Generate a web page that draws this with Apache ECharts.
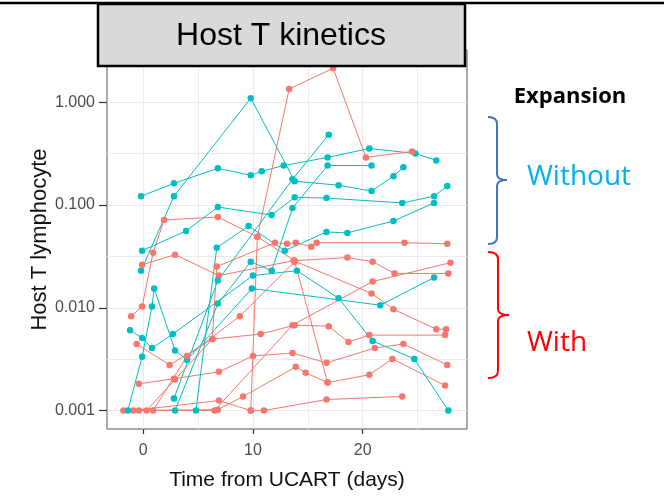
<!DOCTYPE html>
<html>
<head>
<meta charset="utf-8">
<style>
  html, body { margin: 0; padding: 0; background: #fff; }
  #chart { width: 664px; height: 496px; }
</style>
<script src="https://cdn.jsdelivr.net/npm/echarts@6/dist/echarts.min.js"></script>
</head>
<body>
<div id="chart"></div>
<script>
// each patient: [day from UCART, host T lymphocyte fraction]
const withoutExpansion = [
  [[-0.2, 0.122], [2.8, 0.163], [6.8, 0.228], [9.8, 0.195], [10.8, 0.213], [12.8, 0.243], [16.8, 0.291], [20.6, 0.356], [24.8, 0.318], [26.7, 0.272]],
  [[-0.2, 0.023], [2.8, 0.122], [9.8, 1.1], [13.8, 0.171], [17.8, 0.156], [20.8, 0.137], [22.8, 0.191], [23.7, 0.233]],
  [[-0.1, 0.036], [3.9, 0.056], [6.8, 0.0957], [11.7, 0.08], [13.8, 0.119], [16.7, 0.117], [23.6, 0.105], [26.5, 0.122], [27.7, 0.153]],
  [[2.8, 0.00131], [6.8, 0.0184], [13.6, 0.178], [16.9, 0.485]],
  [[4.8, 0.001], [6.7, 0.0384], [9.6, 0.0627], [12.9, 0.036], [16.7, 0.0548], [18.6, 0.0536], [22.8, 0.07], [26.5, 0.105]],
  [[-1.2, 0.00606], [-0.1, 0.00507], [0.8, 0.00406], [2.7, 0.00555], [10.0, 0.0206], [14.0, 0.023], [17.8, 0.0124], [20.9, 0.00475], [24.7, 0.00318], [27.8, 0.001]],
  [[-1.4, 0.001], [-0.1, 0.00333], [0.8, 0.0103], [1.0, 0.0154], [2.9, 0.00385], [4.0, 0.00311], [9.9, 0.0154], [21.6, 0.0106], [26.5, 0.0197]],
  [[2.9, 0.001], [6.8, 0.011], [9.8, 0.0281], [11.7, 0.023], [13.6, 0.0935], [16.8, 0.243], [20.8, 0.243]]
];

const withExpansion = [
  [[-1.1, 0.00828], [-0.1, 0.0103], [0.9, 0.0344], [1.9, 0.0716], [6.8, 0.0766], [10.4, 0.0491], [13.8, 0.0288], [18.6, 0.0308], [20.9, 0.0281], [22.9, 0.0216], [27.8, 0.0216]],
  [[9.8, 0.001], [10.4, 0.0491], [13.3, 1.35], [17.3, 2.15], [20.3, 0.291], [24.5, 0.333]],
  [[-0.1, 0.0263], [2.9, 0.0329], [6.9, 0.0206], [13.7, 0.0288], [20.8, 0.0138], [22.8, 0.00968], [26.7, 0.00619], [27.6, 0.00619]],
  [[-0.6, 0.00444], [2.4, 0.00278], [6.3, 0.00496], [10.7, 0.00555], [13.8, 0.00678], [16.9, 0.00662], [18.7, 0.00464], [20.6, 0.00542], [27.5, 0.00542]],
  [[-0.4, 0.00182], [2.8, 0.00204], [6.9, 0.00238], [10.0, 0.0034], [13.6, 0.00363], [16.7, 0.00291], [21.1, 0.00406], [23.7, 0.00444], [27.7, 0.00278]],
  [[-1.8, 0.001], [6.8, 0.00102], [9.1, 0.00137], [13.9, 0.00266], [14.8, 0.00233], [16.8, 0.00187], [20.6, 0.00223], [22.7, 0.00318], [27.5, 0.00175]],
  [[-0.9, 0.001], [6.9, 0.00125], [9.8, 0.001], [11.0, 0.001], [16.7, 0.00128], [23.6, 0.00137]],
  [[0.3, 0.001], [2.9, 0.002], [6.3, 0.00496], [6.7, 0.0252], [12.0, 0.043], [13.1, 0.042], [13.9, 0.043], [15.3, 0.0393], [15.8, 0.043], [23.8, 0.043], [27.7, 0.042]],
  [[0.9, 0.001], [4.0, 0.0034], [8.8, 0.00828], [13.8, 0.0281], [16.8, 0.00187]],
  [[-0.4, 0.001], [6.5, 0.001], [13.6, 0.00678], [20.9, 0.018], [28.0, 0.0275]]
];

const xTicks = [0, 10, 20];
const yTicks = [0.001, 0.01, 0.1, 1];

const TEAL = '#00BFC4';
const SALMON = '#F8766D';
const X_RANGE = [-3.3, 29.5];
const Y_RANGE = [-3.18, 0.51]; // log10 units

function patientSeries(pts, color) {
  return {
    type: 'line',
    data: pts.map(p => [p[0], Math.log10(p[1])]),
    symbol: 'circle',
    symbolSize: 6.5,
    itemStyle: { color: color },
    lineStyle: { color: color, width: 1 },
    silent: true
  };
}

let series = [];
const n = Math.max(withoutExpansion.length, withExpansion.length);
for (let i = 0; i < n; i++) {
  if (withExpansion[i]) series.push(patientSeries(withExpansion[i], SALMON));
  if (withoutExpansion[i]) series.push(patientSeries(withoutExpansion[i], TEAL));
}

// curly bracket "}" made of curves and lines
function bracket(x0, x1, xTip, top, mid, bottom, color) {
  const st = { stroke: color, lineWidth: 2, fill: null };
  return {
    type: 'group',
    children: [
      { type: 'bezierCurve', shape: { x1: x0, y1: top, cpx1: x1, cpy1: top, x2: x1, y2: top + 7 }, style: st },
      { type: 'line', shape: { x1: x1, y1: top + 7, x2: x1, y2: mid - 6 }, style: st },
      { type: 'bezierCurve', shape: { x1: x1, y1: mid - 6, cpx1: x1, cpy1: mid, x2: xTip, y2: mid }, style: st },
      { type: 'bezierCurve', shape: { x1: xTip, y1: mid, cpx1: x1, cpy1: mid, x2: x1, y2: mid + 6 }, style: st },
      { type: 'line', shape: { x1: x1, y1: mid + 6, x2: x1, y2: bottom - 7 }, style: st },
      { type: 'bezierCurve', shape: { x1: x1, y1: bottom - 7, cpx1: x1, cpy1: bottom, x2: x0, y2: bottom }, style: st }
    ]
  };
}

const chart = echarts.init(document.getElementById('chart'));
const axisFont = 'Liberation Sans, Arial, sans-serif';
const gridLine = { lineStyle: { color: '#ebebeb', width: 1 }, showMinLine: false, showMaxLine: false };

chart.setOption({
  animation: false,
  grid: {
    left: 107, right: 197, top: 50, bottom: 64,
    show: true, borderColor: '#555', borderWidth: 1, backgroundColor: '#fff'
  },
  xAxis: [
    {
      // ticks and labels at 0/10/20
      type: 'value', min: X_RANGE[0], max: X_RANGE[1], position: 'bottom',
      axisLine: { show: false, onZero: false },
      axisTick: { show: true, length: 5, lineStyle: { color: '#333', width: 1.2 }, customValues: xTicks },
      axisLabel: { customValues: xTicks, color: '#4d4d4d', fontSize: 16, margin: 14, fontFamily: axisFont },
      splitLine: { show: false },
      name: 'Time from UCART (days)', nameLocation: 'middle', nameGap: 41, nameMoveOverlap: false,
      nameTextStyle: { color: '#111', fontSize: 21, fontFamily: axisFont }
    },
    {
      // grid lines every 5 days
      type: 'value', min: X_RANGE[0], max: X_RANGE[1], position: 'top',
      axisLine: { show: false, onZero: false },
      axisTick: { show: false },
      axisLabel: { show: false },
      splitLine: gridLine
    }
  ],
  yAxis: [
    {
      type: 'value', min: Y_RANGE[0], max: Y_RANGE[1], position: 'left',
      axisLine: { show: false, onZero: false },
      axisTick: { show: true, length: 8, lineStyle: { color: '#333', width: 1.2 }, customValues: yTicks.map(Math.log10) },
      axisLabel: {
        customValues: yTicks.map(Math.log10),
        formatter: v => Math.pow(10, v).toFixed(3),
        color: '#4d4d4d', fontSize: 16, margin: 12, fontFamily: axisFont
      },
      splitLine: { show: false },
      name: 'Host T lymphocyte', nameLocation: 'middle', nameGap: 56, nameMoveOverlap: false,
      nameTextStyle: { color: '#111', fontSize: 22, fontFamily: axisFont }
    },
    {
      // grid lines every half decade
      type: 'value', min: Y_RANGE[0], max: Y_RANGE[1], splitNumber: 8, position: 'right',
      axisLine: { show: false, onZero: false },
      axisTick: { show: false },
      axisLabel: { show: false },
      splitLine: gridLine
    }
  ],
  series: series,
  graphic: [
    { type: 'line', z: 100, shape: { x1: 0, y1: 3, x2: 664, y2: 3 }, style: { stroke: '#000', lineWidth: 2.5 } },
    {
      type: 'rect', z: 101,
      shape: { x: 98, y: 4, width: 367, height: 62 },
      style: { fill: '#d9d9d9', stroke: '#000', lineWidth: 2.5 }
    },
    {
      type: 'text', z: 102, x: 281, y: 36,
      style: { text: 'Host T kinetics', font: '32px "Liberation Sans", Arial, sans-serif', fill: '#000', align: 'center', verticalAlign: 'middle' }
    },
    {
      type: 'text', x: 570, y: 97,
      style: { text: 'Expansion', font: 'bold 22px "Open Sans", sans-serif', fill: '#000', align: 'center', verticalAlign: 'middle' }
    },
    bracket(488, 497, 507, 117, 180, 244, '#4472C4'),
    {
      type: 'text', x: 527, y: 177,
      style: { text: 'Without', font: '28px "Open Sans", sans-serif', fill: '#00B0F0', align: 'left', verticalAlign: 'middle' }
    },
    bracket(488, 498, 509, 252, 315, 378, '#FF0000'),
    {
      type: 'text', x: 527, y: 343,
      style: { text: 'With', font: '28px "Open Sans", sans-serif', fill: '#FF0000', align: 'left', verticalAlign: 'middle' }
    }
  ]
});
</script>
</body>
</html>
